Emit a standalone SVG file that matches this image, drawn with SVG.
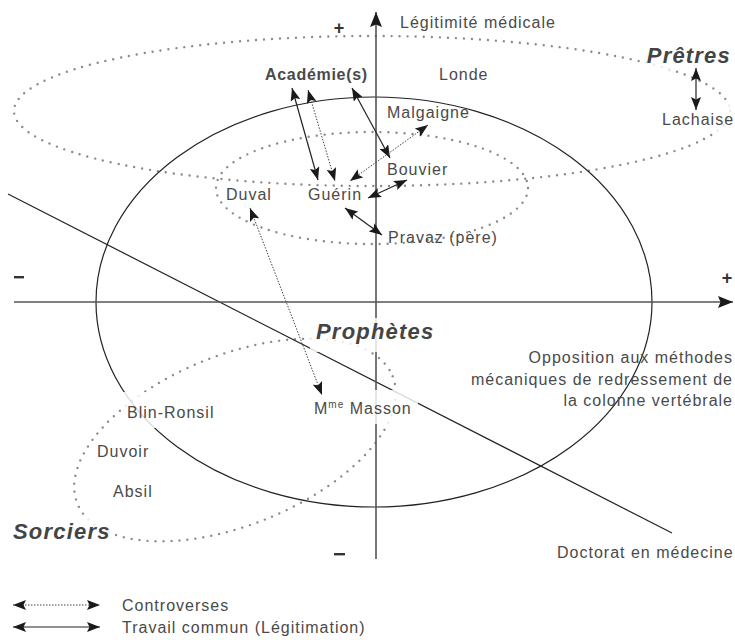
<svg xmlns="http://www.w3.org/2000/svg" width="735" height="640" viewBox="0 0 735 640">
  <style>
    .lbl{font-family:"Liberation Sans",Arial,sans-serif;font-size:16px;fill:#4a4a4a;letter-spacing:1px}
    .bold{font-weight:bold;letter-spacing:0.7px}
    .grp{font-family:"Liberation Sans",Arial,sans-serif;font-size:22px;font-weight:bold;font-style:italic;fill:#444;letter-spacing:1.2px}
    .sign{font-family:"Liberation Sans",Arial,sans-serif;font-size:18px;font-weight:bold;fill:#333}
    .dots{fill:none;stroke:#8a8a8a;stroke-width:2.4;stroke-dasharray:0 8;stroke-linecap:round}
    .solid{fill:none;stroke:#222;stroke-width:1.2}
    .axis{fill:none;stroke:#555;stroke-width:1.6}
    .halo{fill:#fff;fill-opacity:0.82}
    .ar{fill:none;stroke:#222;stroke-width:1.2}
    .ard{fill:none;stroke:#444;stroke-width:1;stroke-dasharray:1.5 1.5}
  </style>
  <defs>
    <marker id="ah" markerUnits="userSpaceOnUse" viewBox="0 0 14 10" markerWidth="14" markerHeight="10" refX="13" refY="5" orient="auto-start-reverse">
      <path d="M0,0 L13,5 L0,10 L2.5,5 Z" fill="#1a1a1a"/>
    </marker>
    <marker id="axh" markerUnits="userSpaceOnUse" viewBox="0 0 16 12" markerWidth="16" markerHeight="12" refX="15" refY="6" orient="auto">
      <path d="M0,0 L15,6 L0,12 L2.5,6 Z" fill="#1a1a1a"/>
    </marker>
  </defs>

  <!-- background shapes -->
  <g id="fields">
    <ellipse id="pretres-field" class="dots" cx="372" cy="111" rx="358" ry="75"/>
    <ellipse id="inner-field" class="dots" cx="372" cy="188" rx="156" ry="56"/>
    <ellipse id="sorciers-field" class="dots" cx="0" cy="0" rx="170" ry="85" transform="translate(235 440) rotate(-22)"/>
    <ellipse id="prophetes-field" class="solid" cx="374" cy="302" rx="278" ry="205"/>
    <line id="doctorat-line" class="solid" x1="8" y1="194" x2="672" y2="533"/>
  </g>

  <g id="axes">
    <line id="axis-x" class="axis" x1="14" y1="302" x2="733" y2="302" marker-end="url(#axh)"/>
    <line id="axis-y" class="axis" x1="376" y1="559" x2="376" y2="12" marker-end="url(#axh)"/>
    <text class="sign" x="339" y="34" text-anchor="middle">+</text>
    <text class="sign" x="727" y="284" text-anchor="middle">+</text>
    <rect x="14" y="276" width="10" height="2.4" fill="#333"/>
    <rect x="334" y="553" width="11" height="2.4" fill="#333"/>
    <text class="lbl" x="400" y="28">Légitimité médicale</text>
  </g>

  <!-- halos behind some labels -->
  <g id="halos">
    <rect class="halo" x="310" y="318" width="132" height="34"/>
    <rect class="halo" x="306" y="390" width="112" height="34"/>
    <rect class="halo" x="640" y="42" width="95" height="28"/>
    <rect class="halo" x="656" y="104" width="78" height="28"/>
    <rect class="halo" x="8" y="516" width="106" height="30"/>
    <rect class="halo" x="122" y="392" width="98" height="36"/>
  </g>

  <!-- nodes -->
  <g id="node-academies"><text class="lbl bold" x="265" y="80">Académie(s)</text></g>
  <g id="node-londe"><text class="lbl" x="439" y="80">Londe</text></g>
  <g id="node-pretres"><text class="grp" x="731" y="63" text-anchor="end">Prêtres</text></g>
  <g id="node-malgaigne"><text class="lbl" x="387" y="118">Malgaigne</text></g>
  <g id="node-lachaise"><text class="lbl" x="662" y="125">Lachaise</text></g>
  <g id="node-bouvier"><text class="lbl" x="387" y="175">Bouvier</text></g>
  <g id="node-guerin"><text class="lbl" x="308" y="200">Guérin</text></g>
  <g id="node-duval"><text class="lbl" x="226" y="200">Duval</text></g>
  <g id="node-pravaz"><text class="lbl" x="388" y="243">Pravaz (père)</text></g>
  <g id="node-prophetes"><text class="grp" x="316" y="339">Prophètes</text></g>
  <g id="node-opposition">
    <text class="lbl" text-anchor="end" x="733" y="363">Opposition aux méthodes</text>
    <text class="lbl" text-anchor="end" x="733" y="385">mécaniques de redressement de</text>
    <text class="lbl" text-anchor="end" x="733" y="406">la colonne vertébrale</text>
  </g>
  <g id="node-masson"><text class="lbl" x="314" y="414">M<tspan font-size="10" dy="-6">me</tspan><tspan dy="6"> Masson</tspan></text></g>
  <g id="node-blin"><text class="lbl" x="127" y="418">Blin-Ronsil</text></g>
  <g id="node-duvoir"><text class="lbl" x="97" y="457">Duvoir</text></g>
  <g id="node-absil"><text class="lbl" x="113" y="497">Absil</text></g>
  <g id="node-sorciers"><text class="grp" x="13" y="539">Sorciers</text></g>
  <g id="node-doctorat"><text class="lbl" x="557" y="558">Doctorat en médecine</text></g>

  <!-- connectors -->
  <g id="connectors">
    <line class="ar" x1="292" y1="88" x2="318" y2="180" marker-start="url(#ah)" marker-end="url(#ah)"/>
    <line class="ard" x1="308" y1="90" x2="335" y2="181" marker-start="url(#ah)" marker-end="url(#ah)"/>
    <line class="ar" x1="352" y1="88" x2="390" y2="158" marker-start="url(#ah)" marker-end="url(#ah)"/>
    <line class="ard" x1="428" y1="125" x2="350" y2="181" marker-start="url(#ah)" marker-end="url(#ah)"/>
    <line class="ar" x1="407" y1="180" x2="368" y2="198" marker-start="url(#ah)" marker-end="url(#ah)"/>
    <line class="ar" x1="345" y1="208" x2="382" y2="235" marker-start="url(#ah)" marker-end="url(#ah)"/>
    <line class="ar" x1="696" y1="68" x2="696" y2="110" marker-start="url(#ah)" marker-end="url(#ah)"/>
    <line class="ard" x1="250" y1="208" x2="322" y2="395" marker-start="url(#ah)" marker-end="url(#ah)"/>
  </g>

  <!-- legend -->
  <g id="legend">
    <line class="ard" x1="13" y1="605" x2="100" y2="605" marker-start="url(#ah)" marker-end="url(#ah)"/>
    <text class="lbl" x="122" y="611">Controverses</text>
    <line class="ar" x1="13" y1="627" x2="100" y2="627" marker-start="url(#ah)" marker-end="url(#ah)"/>
    <text class="lbl" x="122" y="633">Travail commun (Légitimation)</text>
  </g>
</svg>
